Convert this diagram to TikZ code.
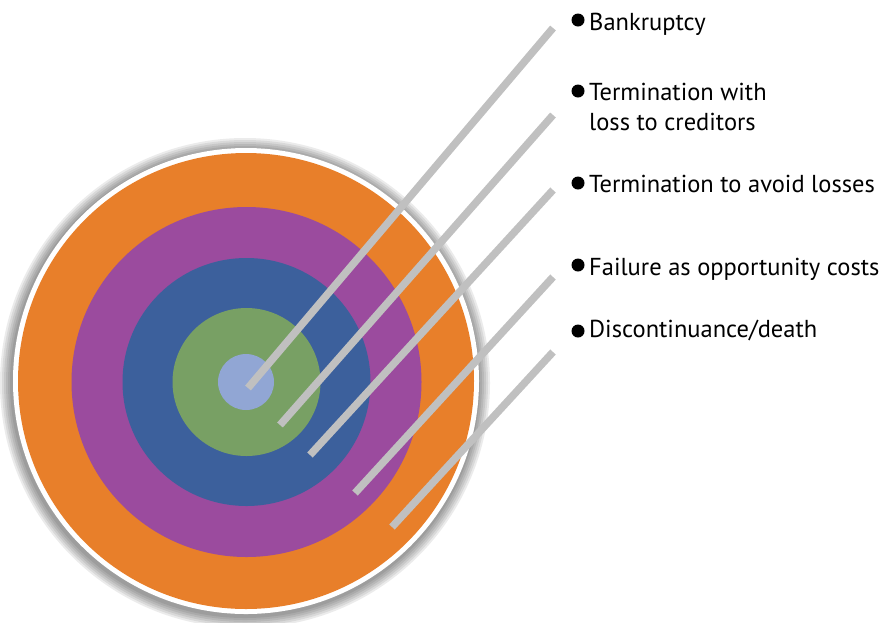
\documentclass[tikz,border=0pt]{standalone}
\usepackage{fontspec}
\setmainfont{PT Sans}
\definecolor{cOrange}{RGB}{232,127,42}
\definecolor{cPurple}{RGB}{155,75,158}
\definecolor{cBlue}{RGB}{60,96,156}
\definecolor{cGreen}{RGB}{120,160,100}
\definecolor{cLight}{RGB}{145,166,212}
\definecolor{cGray}{RGB}{192,192,192}
\tikzset{
  ring/.style={circle, inner sep=0pt, minimum size=#1},
  stick/.style={draw=cGray, line width=7.5pt, line cap=butt},
  lbl/.style={anchor=base west, inner sep=0pt, align=left, font=\fontsize{24.5}{30}\selectfont},
  dot/.style={circle, fill=black, inner sep=0pt, minimum size=13pt},
}
\begin{document}
\begin{tikzpicture}[x=1pt,y=-1pt]
\useasboundingbox (0,0) rectangle (885,622);
% shadow
\foreach \k in {12,10,...,2}{
  \fill[black, opacity=0.08] (245,383) circle (233+\k);
}
\node[ring=466pt, fill=white] (wh) at (246,381) {};
\node[ring=456pt, fill=cOrange] (orange) at (246,381) {};
\node[ring=350pt, fill=cPurple] (purple) at (246.5,382) {};
\node[ring=248pt, fill=cBlue] (blue) at (246.5,382) {};
\node[ring=148pt, fill=cGreen] (green) at (246.5,382) {};
\node[ring=56pt, fill=cLight] (center) at (246,382) {};
% stick ends
\coordinate (a1) at (248,388);
\coordinate (b1) at (553,28);
\coordinate (a2) at (280,425);
\coordinate (b2) at (553,115);
\coordinate (a3) at (310,455);
\coordinate (b3) at (553,190);
\coordinate (a4) at (355,493);
\coordinate (b4) at (553,277);
\coordinate (a5) at (392,527);
\coordinate (b5) at (553,352);
\draw[stick] (a1) -- (b1);
\draw[stick] (a2) -- (b2);
\draw[stick] (a3) -- (b3);
\draw[stick] (a4) -- (b4);
\draw[stick] (a5) -- (b5);
% labels
\node[dot] (d1) at (578,20) {};
\node[lbl] (t1) at (589,30) {Bankruptcy};
\node[dot] (d2) at (578,91) {};
\node[lbl] (t2) at (589,130) {Termination with\\loss to creditors};
\node[dot] (d3) at (578,183) {};
\node[lbl] (t3) at (589,192) {Termination to avoid losses};
\node[dot] (d4) at (578,265) {};
\node[lbl] (t4) at (589,275) {Failure as opportunity costs};
\node[dot] (d5) at (578,331) {};
\node[lbl] (t5) at (589,337) {Discontinuance/death};
\end{tikzpicture}
\end{document}
